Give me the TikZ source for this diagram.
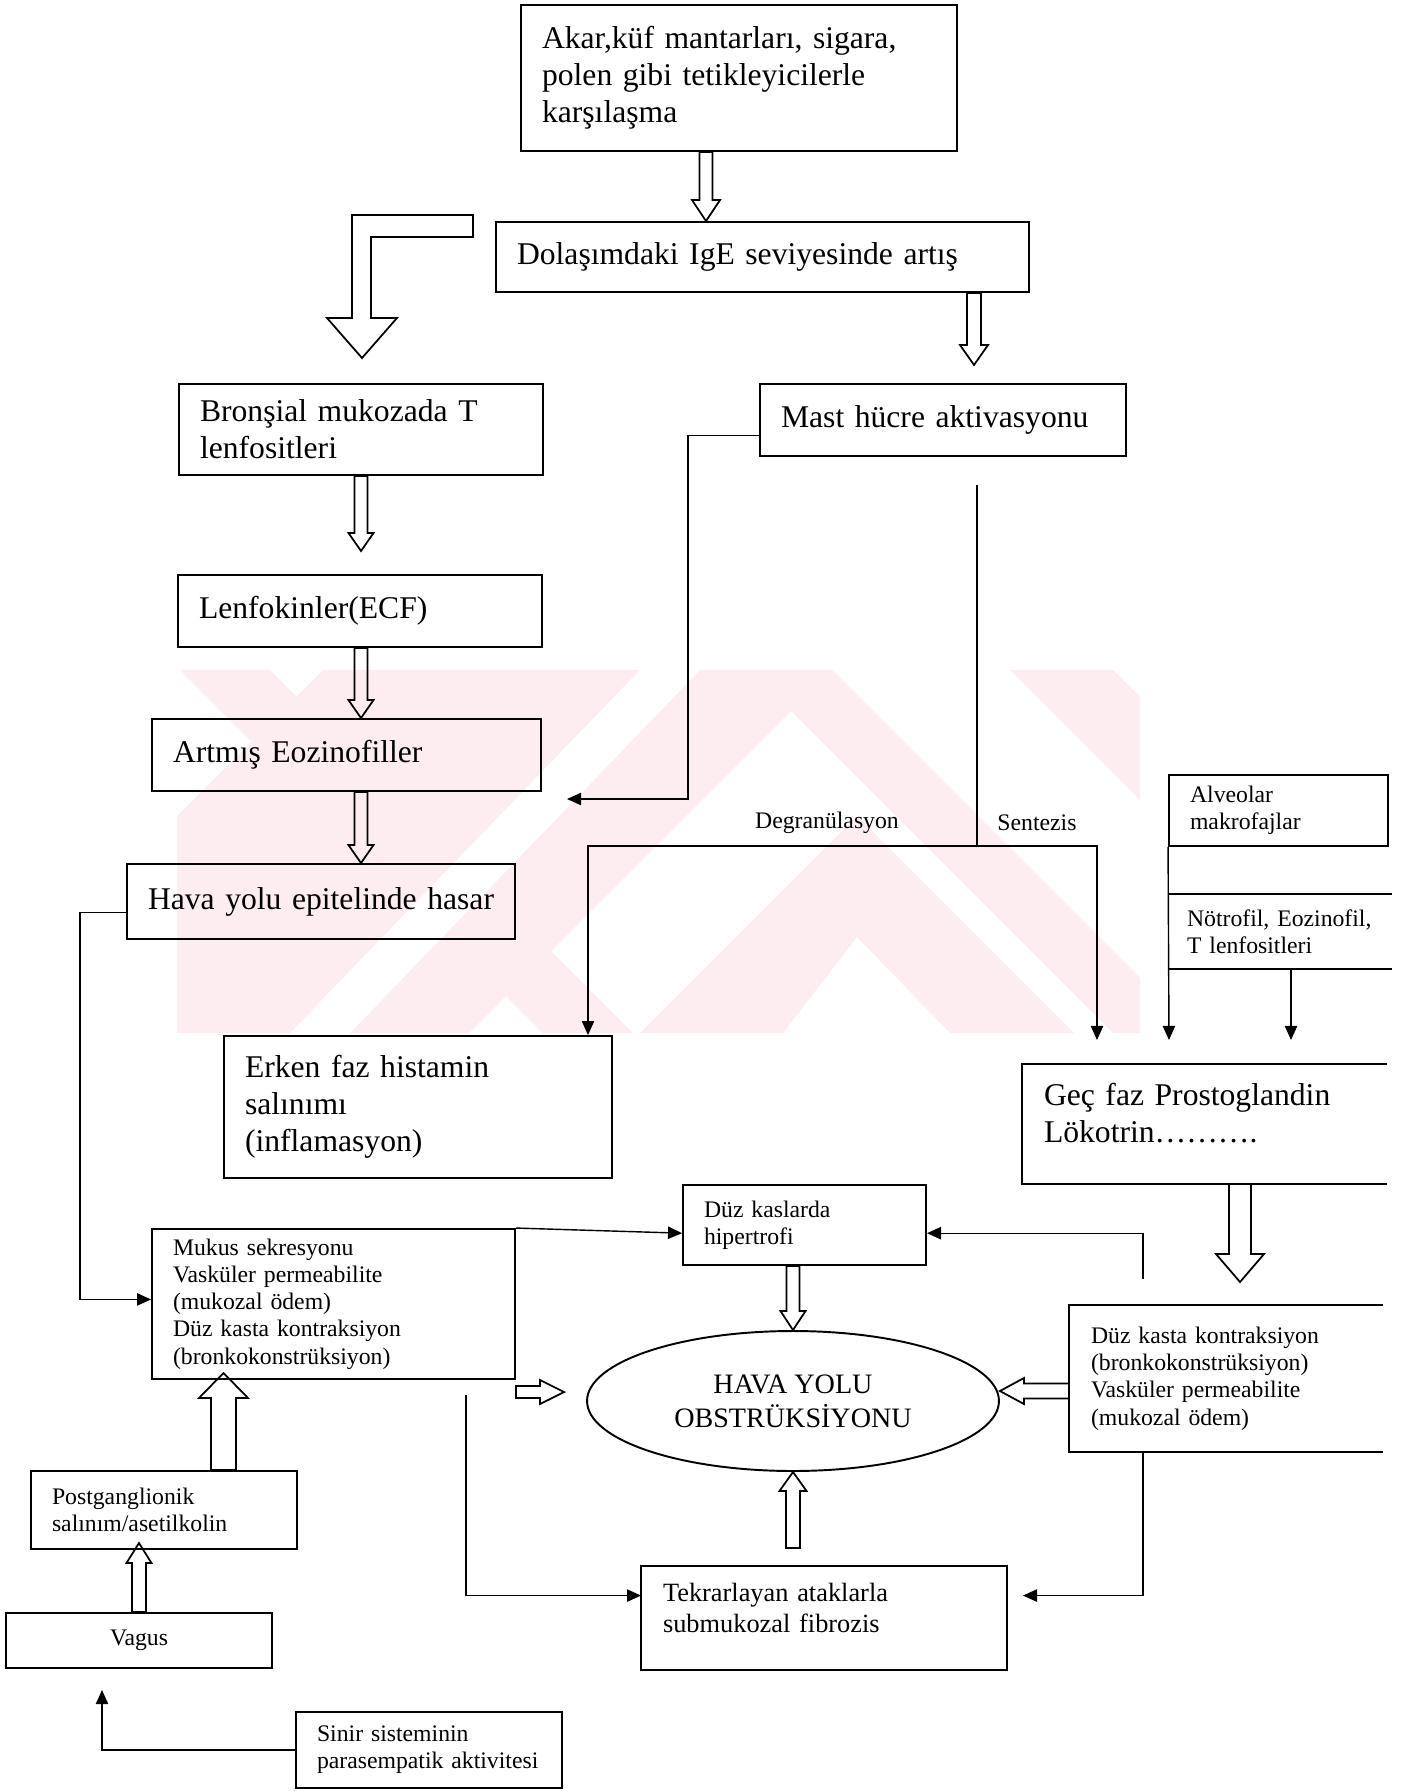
\documentclass[tikz,border=0pt]{standalone}
\usepackage{fontspec}
\setmainfont{Liberation Serif}
\usetikzlibrary{arrows.meta,calc,shapes.geometric}
\definecolor{filigran}{RGB}{253,237,241}
\newcommand\buyukyazi{\fontsize{18}{21}\selectfont}
\newcommand\ortayazi{\fontsize{15}{17.5}\selectfont}
\newcommand\kucukyazi{\fontsize{13.5}{15.5}\selectfont}
\newcommand\ovalyazi{\fontsize{16}{19.5}\selectfont}
%içi boş ok: başlangıç, uç, gövde yarı eni, baş yarı eni, baş boyu
\newcommand{\bosok}[5]{%
  \coordinate (bosb) at ($(#2)!#5!(#1)$);
  \draw[bosokcizgi] ($(#1)!#3!90:(#2)$) -- ($(bosb)!#3!90:(#2)$) -- ($(bosb)!#4!90:(#2)$) -- (#2)
    -- ($(bosb)!#4!-90:(#2)$) -- ($(bosb)!#3!-90:(#2)$) -- ($(#1)!#3!-90:(#2)$) -- cycle;}
\tikzset{
  kutu/.style={draw, line width=1.1pt, align=left, inner xsep=0.42cm, inner ysep=0pt},
  acikkutu/.style={kutu, draw=none},
  kutucizgi/.style={line width=1.1pt},
  bosokcizgi/.style={line width=1pt, line join=miter},
  cizgi/.style={line width=0.8pt},
  ok/.style={line width=0.8pt, -{Triangle[length=8pt,width=7pt]}},
  buyuk/.style={font=\buyukyazi},
  orta/.style={font=\ortayazi},
  kucuk/.style={font=\kucukyazi},
  etiket/.style={font=\kucukyazi, inner sep=0pt}
}
\begin{document}
\begin{tikzpicture}[x=0.02cm,y=-0.02cm]
        \useasboundingbox (0,0) rectangle (1409,1791);
        %filigran;
            \begin{scope}
                \clip (177,670) rectangle (1140,1033);
                \fill[filigran] (180,670) -- (270,670) -- (633,1033) -- (543,1033) -- cycle;
                \fill[filigran] (323,670) -- (832,670) -- (469,1033) -- (-40,1033) -- cycle;
                \fill[white] (640,670) -- (700,670) -- (350,1033) -- (290,1033) -- cycle;
                \fill[filigran] (640,1033) -- (857,816) -- (1074,1033) -- (950,1033) -- (857,937) -- (783,1033) -- cycle;
                \fill[filigran] (750,670) -- (832,670) -- (1195,1033) -- (1113,1033) -- cycle;
                \fill[filigran] (1010,670) -- (1113,670) -- (1476,1033) -- (1373,1033) -- cycle;
            \end{scope}
        %kutular;
            \node[kutu,buyuk,text width=7.88cm,minimum height=2.92cm] (A) at (739,78) {Akar,küf mantarları, sigara,\\ polen gibi tetikleyicilerle\\ karşılaşma};
            \node[kutu,buyuk,text width=9.82cm,minimum height=1.4cm] (B) at (762.5,257) {Dolaşımdaki IgE seviyesinde artış};
            \node[kutu,buyuk,text width=6.44cm,minimum height=1.82cm] (C) at (361,429.5) {Bronşial mukozada T\\ lenfositleri};
            \node[kutu,buyuk,text width=6.48cm,minimum height=1.44cm] (D) at (943,420) {Mast hücre aktivasyonu};
            \node[kutu,buyuk,text width=6.44cm,minimum height=1.44cm] (E) at (360,611) {Lenfokinler(ECF)};
            \node[kutu,buyuk,text width=6.94cm,minimum height=1.44cm] (F) at (346.5,755) {Artmış Eozinofiller};
            \node[kutu,buyuk,text width=6.92cm,minimum height=1.5cm] (G) at (321,901.5) {Hava~yolu~epitelinde~hasar};
            \node[kutu,kucuk,text width=3.54cm,minimum height=1.42cm] (H) at (1278.5,810.5) {Alveolar\\ makrofajlar};
            \node[acikkutu,kucuk,inner xsep=0.36cm,text width=3.72cm,minimum height=1.46cm] (NE) at (1280,931.5) {Nötrofil,~Eozinofil,\\ T lenfositleri};
            \node[kutu,buyuk,text width=6.92cm,minimum height=2.84cm] (I) at (418,1107) {Erken faz histamin\\ salınımı\\ (inflamasyon)};
            \node[acikkutu,buyuk,text width=6.42cm,minimum height=2.36cm] (J) at (1204.5,1113) {Geç faz Prostoglandin\\ Lökotrin\dots\dots\dots.};
            \node[kutu,kucuk,text width=4.02cm,minimum height=1.6cm] (L) at (804.5,1225) {Düz kaslarda\\ hipertrofi};
            \node[kutu,kucuk,text width=6.42cm,minimum height=3cm] (M) at (333.5,1304) {Mukus sekresyonu\\ Vasküler permeabilite\\ (mukozal ödem)\\ Düz kasta kontraksiyon\\ (bronkokonstrüksiyon)};
            \node[acikkutu,kucuk,text width=5.4cm,minimum height=2.9cm] (K) at (1226,1378.5) {Düz kasta kontraksiyon\\ (bronkokonstrüksiyon)\\ Vasküler permeabilite\\ (mukozal ödem)};
            \node[draw,ellipse,line width=1.1pt,minimum width=8.24cm,minimum height=2.8cm,inner sep=0pt,align=center,font=\ovalyazi] (OV) at (793,1401) {HAVA YOLU\\ OBSTRÜKSİYONU};
            \node[acikkutu,orta,text width=6.44cm,minimum height=2.04cm] (N) at (824,1608) {Tekrarlayan ataklarla\\ submukozal fibrozis};
            \node[kutu,kucuk,text width=4.48cm,minimum height=1.56cm] (O) at (164,1510) {Postganglionik\\ salınım/asetilkolin};
            \node[kutu,kucuk,align=center,text width=4.48cm,minimum height=1.1cm] (P) at (139,1640.5) {Vagus};
            \node[kutu,kucuk,text width=4.48cm,minimum height=1.52cm] (Q) at (429,1750) {Sinir sisteminin\\ parasempatik~aktivitesi};
        %açık kutuların kenarları;
            \draw[kutucizgi] (NE.north west) -- (NE.north east) (NE.south west) -- (NE.south east);
            \draw[kutucizgi] ([yshift=-0.22cm]J.north east) -- ([yshift=-0.22cm]J.north west) -- ([yshift=-0.22cm]J.south west) -- ([yshift=-0.22cm]J.south east);
            \draw[kutucizgi] (K.north east) -- (K.north west) -- (K.south west) -- (K.south east);
            \draw[kutucizgi] ([yshift=-0.2cm]N.north west) rectangle ([yshift=-0.2cm]N.south east);
        %etiketler;
            \node[etiket] (degr) at (827,823) {Degranülasyon};
            \node[etiket] (sent) at (1037,823) {Sentezis};
        %içi boş oklar;
            \coordinate (ab1) at (706,0 |- A.south); \coordinate (ab2) at (706,0 |- B.north);
            \bosok{ab1}{ab2}{0.13cm}{0.28cm}{0.42cm}
            \coordinate (bd1) at (974,0 |- B.south); \coordinate (bd2) at (974,365);
            \bosok{bd1}{bd2}{0.14cm}{0.28cm}{0.4cm}
            \draw[bosokcizgi] (473,215) -- (352,215) -- (352,318) -- (327,318) -- (362,358) -- (397,318) -- (371,318) -- (371,237) -- (473,237) -- cycle;
            \coordinate (ce1) at (361,0 |- C.south); \coordinate (ce2) at (361,551);
            \bosok{ce1}{ce2}{0.13cm}{0.25cm}{0.36cm}
            \coordinate (ef1) at (361,0 |- E.south); \coordinate (ef2) at (361,0 |- F.north);
            \bosok{ef1}{ef2}{0.13cm}{0.25cm}{0.36cm}
            \coordinate (fg1) at (361,0 |- F.south); \coordinate (fg2) at (361,0 |- G.north);
            \bosok{fg1}{fg2}{0.13cm}{0.25cm}{0.36cm}
            \coordinate (jalt) at ([yshift=-0.22cm]J.south);
            \coordinate (jk1) at (1240,0 |- jalt); \coordinate (jk2) at (1240,1282);
            \bosok{jk1}{jk2}{0.22cm}{0.48cm}{0.56cm}
            \coordinate (lo1) at (793,0 |- L.south);
            \bosok{lo1}{OV.north}{0.13cm}{0.25cm}{0.38cm}
            \coordinate (mo1) at (M.east |- 0,1392); \coordinate (mo2) at (564,1392);
            \bosok{mo1}{mo2}{0.12cm}{0.24cm}{0.48cm}
            \coordinate (ko1) at (K.west |- 0,1391); \coordinate (ko2) at (OV.east |- ko1);
            \bosok{ko1}{ko2}{0.15cm}{0.26cm}{0.48cm}
            \coordinate (no1) at (OV.south |- 0,1548);
            \bosok{no1}{OV.south}{0.14cm}{0.27cm}{0.38cm}
            \coordinate (om1) at (223.5,0 |- O.north); \coordinate (om2) at (223.5,1373);
            \bosok{om1}{om2}{0.25cm}{0.49cm}{0.5cm}
            \coordinate (po2) at (139,1543);
            \bosok{P.north}{po2}{0.14cm}{0.25cm}{0.4cm}
        %siyah oklar;
            \coordinate (eoz) at (567,799);
            \draw[ok] ($(D.south west)!0.29!(D.north west)$) -| (688,620) |- (eoz);
            \coordinate (dal0) at (977,485); \coordinate (dal) at (977,846);
            \draw[cizgi] (dal0) -- (dal);
            \draw[ok] (dal) -| (588,0 |- I.north);
            \coordinate (sentez) at (1097,1040);
            \draw[ok] (dal) -| (sentez);
            \coordinate (alv) at (1169,1040);
            \draw[ok] (H.south west) -- (alv);
            \coordinate (notr) at (1291,1040);
            \draw[ok] (notr |- NE.south) -- (notr);
            \draw[ok] ($(G.south west)!0.36!(G.north west)$) -| (80,1100) |- ($(M.north west)!0.47!(M.south west)$);
            \draw[ok] (M.north east) -- ($(L.north west)!0.6!(L.south west)$);
            \coordinate (kust) at (1143,1279);
            \draw[ok] (kust) |- ($(L.north east)!0.6!(L.south east)$);
            \coordinate (mkol) at (466,1395);
            \draw[ok] (mkol) |- ($(N.north west)!0.284!(N.south west)+(0,10)$);
            \draw[ok] (kust |- K.south) |- ($(N.north east)!0.284!(N.south east)+(16,10)$);
            \coordinate (vagalt) at (102,1690);
            \draw[ok] (Q.west) -| (vagalt);
    \end{tikzpicture}
\end{document}
